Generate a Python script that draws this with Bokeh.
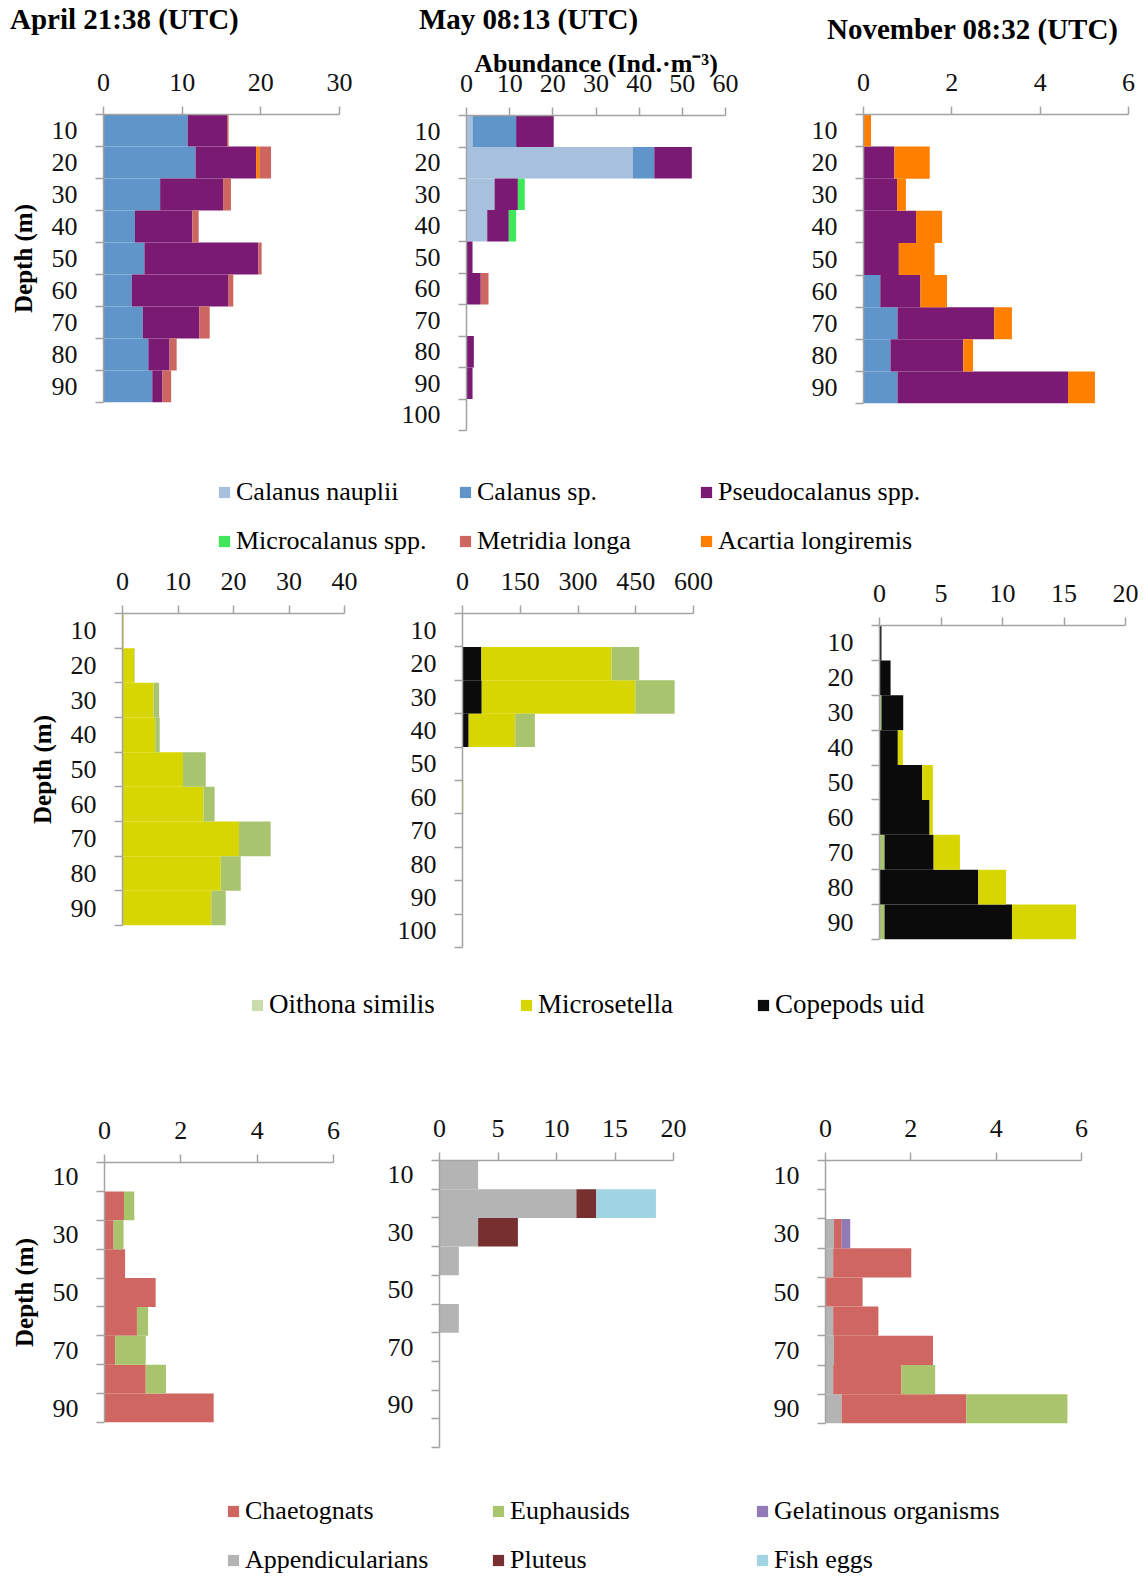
from bokeh.plotting import figure
from bokeh.models import Range1d, FixedTicker, Div, Legend, LegendItem, ColumnDataSource
from bokeh.layouts import column, row
from bokeh.embed import file_html
from bokeh.resources import INLINE

# ---------------- data ----------------
depth9 = [10, 20, 30, 40, 50, 60, 70, 80, 90]
depth10 = [10, 20, 30, 40, 50, 60, 70, 80, 90, 100]
labels_all9 = depth9
labels_all10 = depth10
labels_odd = [10, 30, 50, 70, 90]

ticks_apr_cop = [0, 10, 20, 30]
ticks_may_cop = [0, 10, 20, 30, 40, 50, 60]
ticks_nov_cop = [0, 2, 4, 6]
ticks_apr_small = [0, 10, 20, 30, 40]
ticks_may_small = [0, 150, 300, 450, 600]
ticks_nov_small = [0, 5, 10, 15, 20]
ticks_apr_other = [0, 2, 4, 6]
ticks_may_other = [0, 5, 10, 15, 20]
ticks_nov_other = [0, 2, 4, 6]

titles = ["April 21:38 (UTC)", "May 08:13 (UTC)", "November 08:32 (UTC)"]
x_title = "Abundance (Ind.\u00b7m\u207b\u00b3)"
y_title = "Depth (m)"

# Row 1: large copepods
apr_calanus_sp = [10.7, 11.7, 7.2, 4.0, 5.2, 3.6, 5.0, 5.7, 6.2]
apr_pseudo = [5.0, 7.7, 8.0, 7.3, 14.5, 12.3, 7.2, 2.7, 1.3]
apr_acartia = [0, 0.4, 0, 0, 0, 0, 0, 0, 0]
apr_metridia = [0.2, 1.5, 1.0, 0.8, 0.4, 0.6, 1.3, 0.9, 1.1]

may_nauplii = [1.4, 38.5, 6.5, 4.8, 0, 0, 0, 0, 0, 0]
may_calanus_sp = [10.1, 5.0, 0, 0, 0, 0, 0, 0, 0, 0]
may_pseudo = [8.7, 8.7, 5.4, 5.0, 1.4, 3.3, 0, 1.7, 1.4, 0]
may_micro = [0, 0, 1.6, 1.7, 0, 0, 0, 0, 0, 0]
may_metridia = [0, 0, 0, 0, 0, 1.8, 0, 0, 0, 0]

nov_calanus_sp = [0, 0, 0, 0, 0, 0.38, 0.77, 0.61, 0.77]
nov_pseudo = [0, 0.70, 0.76, 1.19, 0.80, 0.91, 2.19, 1.65, 3.86]
nov_acartia = [0.17, 0.80, 0.20, 0.59, 0.81, 0.60, 0.40, 0.22, 0.61]

# Row 2: small copepods
apr_microsetella = [0.2, 2.1, 5.6, 5.9, 10.9, 14.6, 21.0, 17.7, 16.0]
apr_oithona = [0, 0.1, 1.0, 0.8, 4.1, 2.0, 5.7, 3.6, 2.6]

may_copepods = [0, 49, 50, 16, 0, 0, 0, 0, 0, 0]
may_microsetella = [0, 338, 399, 121, 0, 2, 0, 0, 0, 0]
may_oithona = [0, 72, 102, 51, 0, 0, 0, 0, 0, 0]

nov_oithona = [0, 0, 0.16, 0, 0, 0, 0.41, 0, 0.41]
nov_copepods = [0.16, 0.90, 1.77, 1.49, 3.47, 4.07, 3.99, 8.03, 10.36]
nov_microsetella = [0, 0, 0, 0.41, 0.87, 0.27, 2.14, 2.26, 5.21]

# Row 3: other groups
apr_chaet = [0, 0.51, 0.24, 0.54, 1.34, 0.85, 0.28, 1.08, 2.86]
apr_euph = [0, 0.27, 0.26, 0, 0, 0.29, 0.80, 0.53, 0]

may_append = [3.3, 11.7, 3.3, 1.65, 0, 1.65, 0, 0, 0, 0]
may_pluteus = [0, 1.7, 3.4, 0, 0, 0, 0, 0, 0, 0]
may_fish = [0, 5.1, 0, 0, 0, 0, 0, 0, 0, 0]

nov_append = [0, 0, 0.20, 0.18, 0, 0.18, 0.20, 0.18, 0.38]
nov_chaet = [0, 0, 0.18, 1.83, 0.87, 1.06, 2.32, 1.60, 2.92]
nov_euph = [0, 0, 0, 0, 0, 0, 0, 0.79, 2.37]
nov_gelat = [0, 0, 0.20, 0, 0, 0, 0, 0, 0]

legend1_names = ["Calanus nauplii", "Calanus sp.", "Pseudocalanus spp.",
                 "Microcalanus spp.", "Metridia longa", "Acartia longiremis"]
legend2_names = ["Oithona similis", "Microsetella", "Copepods uid"]
legend3_names = ["Chaetognats", "Euphausids", "Gelatinous organisms",
                 "Appendicularians", "Pluteus", "Fish eggs"]

COL = {
    "Calanus nauplii": "#a7c0de",
    "Calanus sp.": "#5f95c8",
    "Pseudocalanus spp.": "#7a1a73",
    "Microcalanus spp.": "#3ee85a",
    "Metridia longa": "#cd6660",
    "Acartia longiremis": "#ff7f00",
    "Oithona similis": "#a9c46e",
    "Microsetella": "#d8d600",
    "Copepods uid": "#0b0b0b",
    "Chaetognats": "#cf6661",
    "Euphausids": "#a9c46c",
    "Gelatinous organisms": "#917ab6",
    "Appendicularians": "#b4b4b4",
    "Pluteus": "#772f2f",
    "Fish eggs": "#a1d4e2",
}
LEGEND_SWATCH = dict(COL)
LEGEND_SWATCH["Oithona similis"] = "#cadcae"

SERIF = "Liberation Serif"
GRAY = "#a3a3a3"


def make_panel(fig_w, fig_h, left, top, fw, fh, xticks, depths, labelled, series,
               depth_label=False, xlabel=None, xlabel_standoff=0):
    names = list(series.keys())
    keys = ["s%d" % i for i in range(len(names))]
    data = {"mid": [d - 5 for d in depths]}
    for k, n in zip(keys, names):
        data[k] = series[n]
    src = ColumnDataSource(data)
    p = figure(width=fig_w, height=fig_h,
               x_range=Range1d(xticks[0], xticks[-1]),
               y_range=Range1d(depths[-1], 0),
               x_axis_location="above", toolbar_location=None, output_backend="svg",
               min_border_left=left, min_border_top=top,
               min_border_right=fig_w - left - fw, min_border_bottom=fig_h - top - fh)
    p.hbar_stack(keys, y="mid", height=10, source=src,
                 fill_color=[COL[n] for n in names], line_color=None)
    p.grid.visible = False
    p.outline_line_color = None
    p.background_fill_color = None
    p.border_fill_color = None

    xa = p.xaxis[0]
    xa.ticker = FixedTicker(ticks=xticks)
    xa.axis_line_color = GRAY
    xa.axis_line_width = 1.5
    xa.major_tick_line_color = GRAY
    xa.major_tick_line_width = 1.5
    xa.major_tick_out = 8
    xa.major_tick_in = 0
    xa.minor_tick_out = 0
    xa.minor_tick_in = 0
    xa.major_label_text_font = SERIF
    xa.major_label_text_font_size = "26px"
    xa.major_label_text_color = "#111111"
    xa.major_label_standoff = 16
    if xlabel is not None:
        xa.axis_label = xlabel
        xa.axis_label_text_font = SERIF
        xa.axis_label_text_font_style = "bold"
        xa.axis_label_text_font_size = "26px"
        xa.axis_label_text_color = "#000000"
        xa.axis_label_standoff = xlabel_standoff

    ya = p.yaxis[0]
    ya.ticker = FixedTicker(ticks=[d - 5 for d in labelled],
                            minor_ticks=[0] + list(depths))
    ya.major_label_overrides = {d - 5: str(d) for d in labelled}
    ya.axis_line_color = GRAY
    ya.axis_line_width = 1.5
    ya.major_tick_line_color = None
    ya.major_tick_out = 8
    ya.major_tick_in = 0
    ya.minor_tick_line_color = GRAY
    ya.minor_tick_line_width = 1.5
    ya.minor_tick_out = 8
    ya.minor_tick_in = 0
    ya.major_label_text_font = SERIF
    ya.major_label_text_font_size = "26px"
    ya.major_label_text_color = "#111111"
    ya.major_label_standoff = 18
    if depth_label:
        ya.axis_label = y_title
        ya.axis_label_text_font = SERIF
        ya.axis_label_text_font_style = "bold"
        ya.axis_label_text_font_size = "25px"
        ya.axis_label_text_color = "#000000"
        ya.axis_label_standoff = 12
    return column(p)


def ser(names, arrays):
    return dict(zip(names, arrays))


def title_div(text, width, height, pad_left, pad_top):
    html = ('<div style="font-family:\'Liberation Serif\';font-size:29px;font-weight:bold;'
            'line-height:26px;color:#000;white-space:nowrap;'
            'padding-left:%dpx;padding-top:%dpx;">%s</div>' % (pad_left, pad_top, text))
    return Div(text=html, width=width, height=height, margin=0)


TH = 44  # title strip height

# ---------------- row A ----------------
title_row = row(title_div(titles[0], 383, TH, 10, 6),
                title_div(titles[1], 383, TH, 36, 6),
                title_div(titles[2], 382, TH, 61, 16))

pA1 = make_panel(383, 450 - TH, 103, 114 - TH, 236, 288, ticks_apr_cop, depth9, labels_all9,
                 ser(["Calanus sp.", "Pseudocalanus spp.", "Acartia longiremis", "Metridia longa"],
                     [apr_calanus_sp, apr_pseudo, apr_acartia, apr_metridia]),
                 depth_label=True)
pA2 = make_panel(383, 450 - TH, 83, 115 - TH, 259, 315, ticks_may_cop, depth10, labels_all10,
                 ser(["Calanus nauplii", "Calanus sp.", "Pseudocalanus spp.", "Microcalanus spp.", "Metridia longa"],
                     [may_nauplii, may_calanus_sp, may_pseudo, may_micro, may_metridia]),
                 xlabel=x_title, xlabel_standoff=-6)
pA3 = make_panel(382, 450 - TH, 97, 114 - TH, 265, 289, ticks_nov_cop, depth9, labels_all9,
                 ser(["Calanus sp.", "Pseudocalanus spp.", "Acartia longiremis"],
                     [nov_calanus_sp, nov_pseudo, nov_acartia]))

# ---------------- row B ----------------
pB1 = make_panel(383, 390, 122, 48, 222, 312, ticks_apr_small, depth9, labels_all9,
                 ser(["Microsetella", "Oithona similis"], [apr_microsetella, apr_oithona]),
                 depth_label=True)
pB2 = make_panel(383, 390, 79, 48, 231, 334, ticks_may_small, depth10, labels_all10,
                 ser(["Copepods uid", "Microsetella", "Oithona similis"],
                     [may_copepods, may_microsetella, may_oithona]))
pB3 = make_panel(382, 390, 113, 60, 246, 314, ticks_nov_small, depth9, labels_all9,
                 ser(["Oithona similis", "Copepods uid", "Microsetella"],
                     [nov_oithona, nov_copepods, nov_microsetella]))

# ---------------- row C ----------------
pC1 = make_panel(383, 425, 104, 122, 229, 260, ticks_apr_other, depth9, labels_odd,
                 ser(["Chaetognats", "Euphausids"], [apr_chaet, apr_euph]),
                 depth_label=True)
pC2 = make_panel(383, 425, 56, 120, 234, 287, ticks_may_other, depth10, labels_odd,
                 ser(["Appendicularians", "Pluteus", "Fish eggs"],
                     [may_append, may_pluteus, may_fish]))
pC3 = make_panel(382, 425, 59, 120, 256, 263, ticks_nov_other, depth9, labels_odd,
                 ser(["Appendicularians", "Chaetognats", "Euphausids", "Gelatinous organisms"],
                     [nov_append, nov_chaet, nov_euph, nov_gelat]))


# ---------------- legends ----------------
def make_legend(height, names, ncols, col_x, row_gap, bottom_y, font_size="26px"):
    p = figure(width=1148, height=height, x_range=Range1d(0, 1), y_range=Range1d(0, 1),
               toolbar_location=None, output_backend="svg",
               x_axis_location=None, y_axis_location=None, min_border=0)
    p.grid.visible = False
    p.outline_line_color = None
    p.border_fill_color = None
    p.background_fill_color = None
    rends = {}
    for n in names:
        # swatch-only renderer: a zero-size bar that draws nothing in the plot area
        rends[n] = p.hbar(y=[0.5], left=[0], right=[0], height=0,
                          fill_color=LEGEND_SWATCH[n], line_color=None)
    nrows = (len(names) + ncols - 1) // ncols
    for c in range(ncols):
        items = []
        for r in range(nrows):
            idx = r * ncols + c
            if idx < len(names):
                n = names[idx]
                items.append(LegendItem(label=n, renderers=[rends[n]]))
        leg = Legend(items=items, location=(col_x[c], bottom_y), orientation="vertical",
                     spacing=row_gap, padding=0, margin=0,
                     border_line_color=None, background_fill_alpha=0,
                     glyph_width=14, glyph_height=14, label_standoff=5,
                     label_height=30, label_text_font=SERIF, label_text_font_size=font_size,
                     label_text_color="#000000")
        p.add_layout(leg)
    return p


leg1 = make_legend(115, legend1_names, 3, [217, 458, 699], 19, 9)
leg2 = make_legend(85, legend2_names, 3, [250, 519, 756], 0, 20, font_size="27px")
leg3 = make_legend(113, legend3_names, 3, [226, 491, 755], 19, 3)

layout = column(title_row, row(pA1, pA2, pA3), leg1,
                row(pB1, pB2, pB3), leg2,
                row(pC1, pC2, pC3), leg3)

open("out.html", "w").write(file_html(layout, INLINE))
